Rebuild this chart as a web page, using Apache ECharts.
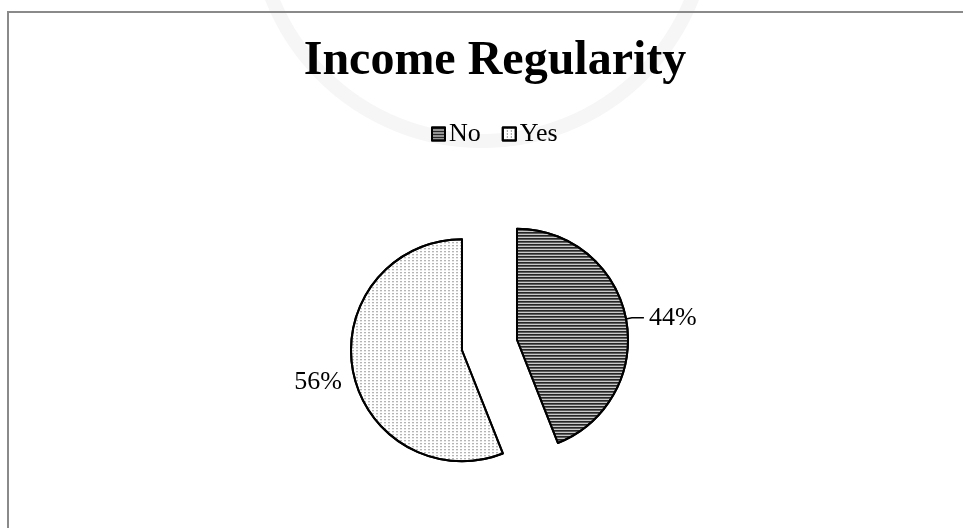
<!DOCTYPE html>
<html>
<head>
<meta charset="utf-8">
<script src="https://cdn.jsdelivr.net/npm/echarts@6/dist/echarts.min.js"></script>
<style>
html,body{margin:0;padding:0;background:#fff;}
#chart{width:963px;height:528px;}
</style>
</head>
<body>
<div id="chart"></div>
<script>
var titleText = 'Income Regularity';
var categories = ['No', 'Yes'];
var values = [44, 56];

var serif = '"Liberation Serif", "Times New Roman", serif';

var decals = [
  { symbol: 'rect', symbolSize: 1, color: '#262626', dashArrayX: [1, 0], dashArrayY: [2, 1] },
  { symbol: 'rect', symbolSize: 1, color: '#3a3a3a', dashArrayX: [1, 3], dashArrayY: [1, 2] }
];
var labelCfg = [
  { formatter: '{d}%' },
  { formatter: '\n{d}%', lineHeight: 21 }
];
var lineCfg = [
  { show: true, length: 6, length2: 12 },
  { show: false, length: 2, length2: 4 }
];

var data = categories.map(function (c, i) {
  return {
    name: c,
    value: values[i],
    selected: true,
    itemStyle: { color: '#ffffff', borderColor: '#000', borderWidth: 2, decal: decals[i] },
    label: labelCfg[i],
    labelLine: lineCfg[i]
  };
});

var chart = echarts.init(document.getElementById('chart'), null, { renderer: 'canvas' });
chart.setOption({
  backgroundColor: '#ffffff',
  animation: false,
  graphic: [
    { type: 'circle', shape: { cx: 482, cy: -85, r: 226 }, style: { fill: 'none', stroke: '#f6f6f6', lineWidth: 14 }, z: -10 },
    { type: 'rect', shape: { x: 8, y: 12, width: 980, height: 600 }, style: { fill: 'none', stroke: '#8a8a8a', lineWidth: 2 }, z: -5 }
  ],
  title: {
    text: titleText,
    left: 490,
    textAlign: 'center',
    top: 33,
    textStyle: { fontFamily: serif, fontSize: 48, fontWeight: 'bold', color: '#000' }
  },
  legend: {
    data: categories,
    top: 116,
    left: 426,
    itemWidth: 13,
    itemHeight: 13,
    itemGap: 21,
    icon: 'rect',
    textStyle: { fontFamily: serif, fontSize: 26, color: '#000', padding: [0, 0, 0, -1] }
  },
  series: [{
    type: 'pie',
    center: [489.5, 345],
    radius: 111,
    startAngle: 90,
    clockwise: true,
    selectedMode: 'multiple',
    selectedOffset: 28,
    avoidLabelOverlap: false,
    label: {
      show: true,
      position: 'outside',
      formatter: '{d}%',
      fontFamily: serif,
      fontSize: 26,
      color: '#000'
    },
    labelLine: { lineStyle: { color: '#000', width: 1.5 } },
    emphasis: { disabled: true },
    data: data
  }]
});
</script>
</body>
</html>
